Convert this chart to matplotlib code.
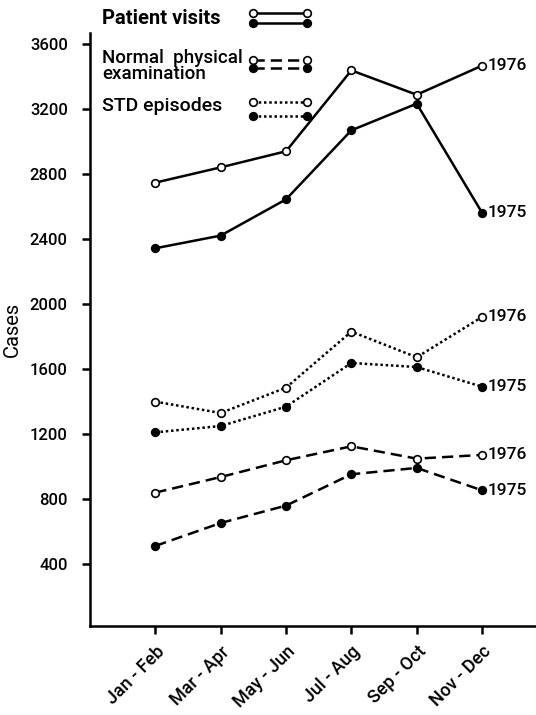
import matplotlib
matplotlib.use("Agg")
import matplotlib.pyplot as plt
from matplotlib.lines import Line2D

plt.rcParams['font.family'] = ['Roboto', 'DejaVu Sans']
plt.rcParams['font.weight'] = 'medium'

periods = ["Jan - Feb", "Mar - Apr", "May - Jun", "Jul - Aug", "Sep - Oct", "Nov - Dec"]
yticks = [400, 800, 1200, 1600, 2000, 2400, 2800, 3200, 3600]

visits_1976 = [2749, 2843, 2942, 3440, 3290, 3469]
visits_1975 = [2345, 2423, 2646, 3071, 3235, 2564]
std_1976 = [1401, 1331, 1487, 1832, 1674, 1922]
std_1975 = [1212, 1251, 1370, 1639, 1614, 1493]
exam_1976 = [841, 937, 1040, 1126, 1050, 1073]
exam_1975 = [513, 654, 761, 954, 993, 855]

W, H = 536, 715
fig = plt.figure(figsize=(W / 100, H / 100), dpi=100)
ax = fig.add_axes([90 / W, (H - 626) / H, (W - 90) / W, (626 - 33) / H])

x = list(range(len(periods)))
solid = '-'
dotted = (0, (1, 1.1))
dashed = (0, (4.5, 2.4))

def series(vals, ls, filled, lw):
    ax.plot(x, vals, color='black', linestyle=ls, linewidth=lw,
            marker='o', markersize=5.5,
            markerfacecolor='black' if filled else 'white',
            markeredgecolor='black', markeredgewidth=1.2, clip_on=False, zorder=3)

series(visits_1976, solid, False, 1.8)
series(visits_1975, solid, True, 1.8)
series(std_1976, dotted, False, 1.8)
series(std_1975, dotted, True, 1.8)
series(exam_1976, dashed, False, 1.8)
series(exam_1975, dashed, True, 1.8)

# year tags at the end of each line
for vals, yr in [(visits_1976, "1976"), (visits_1975, "1975"),
                 (std_1976, "1976"), (std_1975, "1975"),
                 (exam_1976, "1976"), (exam_1975, "1975")]:
    ax.annotate(yr, (x[-1], vals[-1]), xytext=(4, 0), textcoords='offset points',
                ha='left', va='center', fontsize=12.5, annotation_clip=False)

ax.set_xlim(-1, (W - 89.6) / 65.4 - 1)
ax.set_ylim(20, 3670)
ax.set_yticks(yticks)
ax.set_yticklabels([str(v) for v in yticks], fontsize=12)
ax.set_xticks(x)
ax.set_xticklabels(periods, rotation=45, ha='right', va='top', fontsize=13,
                   rotation_mode='anchor')
ax.tick_params(axis='both', direction='out', length=6, width=1.8, color='black')
ax.tick_params(axis='y', pad=10)
ax.tick_params(axis='x', pad=6)
for side in ('top', 'right'):
    ax.spines[side].set_visible(False)
for side in ('left', 'bottom'):
    ax.spines[side].set_linewidth(1.8)
ax.set_ylabel("Cases", fontsize=14.5, labelpad=6)

# key drawn in figure pixels
def fx(px):
    return px / W

def fy(py):
    return 1 - py / H

def key_pair(y_open, y_filled, ls):
    for yy, filled in [(y_open, False), (y_filled, True)]:
        fig.add_artist(Line2D([fx(253), fx(307)], [fy(yy), fy(yy)],
                              transform=fig.transFigure, color='black',
                              linestyle=ls, linewidth=1.8, marker='o', markersize=5.5,
                              markerfacecolor='black' if filled else 'white',
                              markeredgecolor='black', markeredgewidth=1.2))

fig.text(fx(102), fy(18), "Patient visits", fontsize=14.5, fontweight='bold',
         ha='left', va='center')
key_pair(13, 23, solid)
fig.text(fx(102), fy(66), "Normal  physical\nexamination", fontsize=13.5,
         ha='left', va='center', linespacing=0.8)
key_pair(60, 68, dashed)
fig.text(fx(102), fy(106), "STD episodes", fontsize=14, ha='left', va='center')
key_pair(102, 116, dotted)

fig.savefig("out.png", dpi=100, facecolor='white')
